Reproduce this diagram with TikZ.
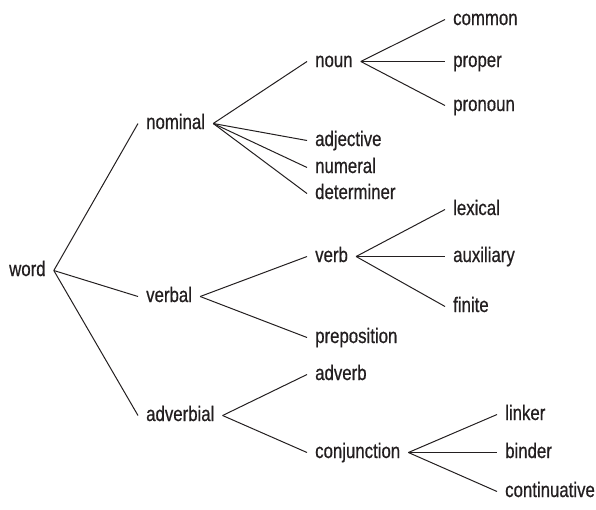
\documentclass[tikz,border=0pt]{standalone}
\usepackage{fontspec}
\setmainfont[FakeStretch=0.8,FakeBold=0.6]{Liberation Sans}

\definecolor{ink}{HTML}{231F20}
\tikzstyle{term} = [anchor=base west,inner xsep=8pt,inner ysep=0pt,text height=15pt,text depth=4pt,text=ink,font=\fontsize{21}{25}\selectfont]
\tikzstyle{branch} = [draw=ink,line width=1pt,-]

\begin{document}
\begin{tikzpicture}[x=1pt,y=-1pt]
      \useasboundingbox (0,0) rectangle (596,509);
      %nodes
      \foreach \nodename/\x/\y in {
        word/1/276,
        nominal/138/129, verbal/138/302, adverbial/138/421,
        noun/307/67, adjective/307/146, numeral/307/173, determiner/307/199,
        verb/307/262, preposition/307/343, adverb/307/380, conjunction/307/458,
        common/445/25, proper/445/67, pronoun/445/111,
        lexical/445/215, auxiliary/445/262, finite/445/312,
        linker/497/420, binder/497/458, continuative/497/497}
      {
        \node[term] (\nodename) at (\x,\y) {\nodename};
      };

      %edges
      \path
      \foreach \startnode/\endnode in {
        word/nominal, word/verbal, word/adverbial,
        nominal/noun, nominal/adjective, nominal/numeral, nominal/determiner,
        verbal/verb, verbal/preposition, adverbial/adverb, adverbial/conjunction,
        noun/common, noun/proper, noun/pronoun,
        verb/lexical, verb/auxiliary, verb/finite,
        conjunction/linker, conjunction/binder, conjunction/continuative}
      {
        (\startnode.east) edge[branch] (\endnode.west)
      };
    \end{tikzpicture}
\end{document}
